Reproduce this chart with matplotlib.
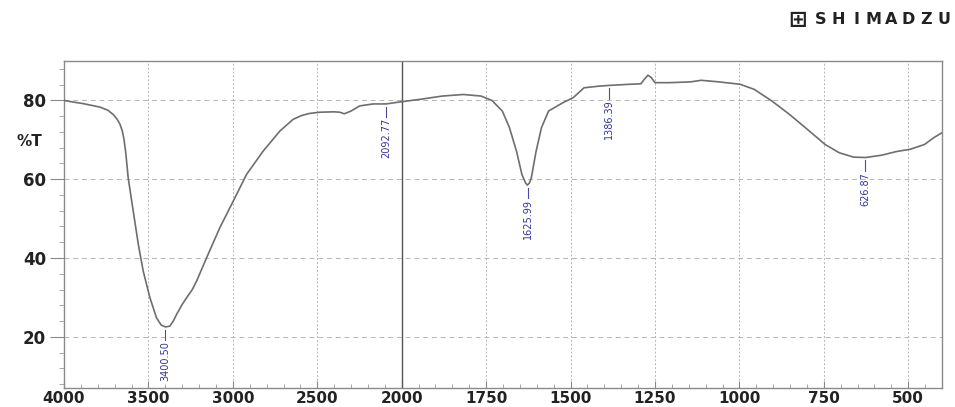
import numpy as np
import matplotlib as mpl
mpl.use('Agg')
import matplotlib.pyplot as plt
from matplotlib.ticker import FixedLocator, FixedFormatter


# spectrum (wavenumber cm-1, %T)
wavenumber = [4000, 3950, 3888, 3787, 3740, 3708, 3685, 3669, 3655, 3645,
              3635, 3620, 3590, 3560, 3531, 3491, 3452, 3425, 3400, 3373,
              3350, 3333, 3300, 3274, 3240, 3215, 3156, 3077, 2998, 2919,
              2821, 2722, 2643, 2590, 2544, 2485, 2400, 2367, 2340, 2300,
              2249, 2170, 2092, 2012, 1943, 1880, 1817, 1765, 1733, 1702,
              1681, 1660, 1644, 1633, 1628, 1622, 1616, 1602, 1586, 1565,
              1523, 1492, 1460, 1418, 1386, 1323, 1292, 1282, 1271, 1261,
              1250, 1208, 1145, 1113, 1061, 998, 956, 903, 851, 798,
              746, 704, 662, 626, 578, 536, 494, 452, 425, 400]
transmittance = [80.0, 79.6, 79.2, 78.3, 77.5, 76.4, 75.2, 74.0, 72.3, 70.2,
                 67.0, 60.4, 51.9, 43.5, 36.7, 29.9, 24.8, 23.0, 22.5, 22.7,
                 24.2, 25.7, 28.2, 29.9, 32.0, 34.1, 40.0, 47.7, 54.4, 61.2,
                 67.1, 72.2, 75.2, 76.2, 76.7, 77.0, 77.1, 77.0, 76.6, 77.3,
                 78.6, 79.1, 79.1, 79.6, 80.3, 81.1, 81.5, 81.1, 80.0, 77.3,
                 73.1, 67.1, 61.2, 59.0, 58.5, 59.0, 60.4, 67.1, 73.1, 77.3,
                 79.4, 80.7, 83.2, 83.6, 83.8, 84.1, 84.2, 85.3, 86.4, 85.8,
                 84.5, 84.5, 84.7, 85.1, 84.7, 84.1, 82.8, 79.8, 76.4, 72.6,
                 68.8, 66.7, 65.6, 65.5, 66.1, 67.0, 67.6, 68.8, 70.5, 71.8]

peak_pos = [3400.50, 2092.77, 1625.99, 1386.39, 626.87]
peak_val = [22.5, 79.1, 58.5, 83.8, 65.5]
peak_labels = ['3400.50', '2092.77', '1625.99', '1386.39', '626.87']

x_major = [4000, 3500, 3000, 2500, 2000, 1750, 1500, 1250, 1000, 750, 500]
y_major = [20, 40, 60, 80]


def fwd(x):
    x = np.asarray(x, dtype=float)
    return np.where(x >= 2000, x, 2000 + 2 * (x - 2000))


def inv(u):
    u = np.asarray(u, dtype=float)
    return np.where(u >= 2000, u, 2000 + (u - 2000) / 2)


fig = plt.figure(figsize=(9.55, 4.07), dpi=100)
ax = fig.add_axes([64 / 955, 1 - 388 / 407, 878 / 955, 327 / 407])
ax.set_xscale('function', functions=(fwd, inv))

ax.plot(wavenumber, transmittance, color='#6e6e6e', lw=1.2, zorder=3)
ax.set_xlim(4000, 400)
ax.set_ylim(7, 90)

# ticks
minor_x = [v for v in range(3900, 2000, -100) if v not in x_major]
minor_x += [v for v in range(1950, 400, -50) if v not in x_major]
ax.xaxis.set_major_locator(FixedLocator(x_major))
ax.xaxis.set_major_formatter(FixedFormatter([str(v) for v in x_major]))
ax.xaxis.set_minor_locator(FixedLocator(minor_x))
ax.yaxis.set_major_locator(FixedLocator(y_major))
ax.yaxis.set_minor_locator(FixedLocator([v for v in range(8, 90, 4) if v not in y_major]))

ax.tick_params(axis='x', which='major', direction='in', length=5, width=0.8,
               color='#888888', pad=2.5, labelsize=11)
ax.tick_params(axis='x', which='minor', direction='in', length=3, width=0.6, color='#999999')
ax.tick_params(axis='y', which='major', direction='out', length=10, width=0.8,
               color='#888888', pad=3, labelsize=12)
ax.tick_params(axis='y', which='minor', direction='out', length=3.5, width=0.6, color='#999999')
for lab in ax.get_xticklabels() + ax.get_yticklabels():
    lab.set_fontweight('bold')
    lab.set_color('#222222')

ax.xaxis.grid(True, which='major', ls=(0, (2, 2)), color='#b5b5b5', lw=0.7)
ax.yaxis.grid(True, which='major', ls=(0, (5, 4)), color='#b5b5b5', lw=0.7)
ax.set_axisbelow(True)
ax.axvline(2000, color='#555555', lw=1.0, zorder=2)

for s in ax.spines.values():
    s.set_color('#8a8a8a')
    s.set_linewidth(1.0)

ax.text(-0.04, 69.5, '%T', transform=ax.get_yaxis_transform(), ha='center', va='center',
        fontsize=11, fontweight='bold', color='#222222')

# peak labels
for pos, val, lab in zip(peak_pos, peak_val, peak_labels):
    ax.plot([pos, pos], [val - 0.7, val - 3.4], color='#4a4aa8', lw=0.8, zorder=4)
    ax.text(pos, val - 3.6, lab, rotation=90, ha='center', va='top',
            fontsize=7, color='#34349a', zorder=4)

# maker logo
fig.text(797.5 / 955, 1 - 20 / 407, '\u229e', ha='center', va='center',
         fontsize=16, fontweight='bold', color='#222222')
for i, ch in enumerate('SHIMADZU'):
    fig.text((821 + 17.5 * i) / 955, 1 - 20 / 407, ch, ha='center', va='center',
             fontsize=11.5, fontweight='bold', color='#222222')

fig.savefig('out.png', dpi=100)
